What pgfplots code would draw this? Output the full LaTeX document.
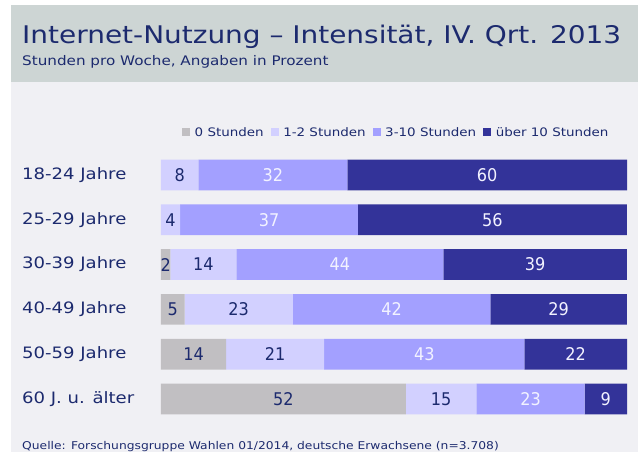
\documentclass[border=0pt]{standalone}
\usepackage{fontspec}
\setmainfont{DejaVu Sans}[FakeStretch=1.15]
\newfontfamily\valfamily{DejaVu Sans}[FakeStretch=0.92]
\usepackage{pgfplots}
\pgfplotsset{compat=1.18}
\usepackage{pgfplotstable}

\definecolor{navy}{HTML}{1C2A6E}
\definecolor{band}{HTML}{CDD5D4}
\definecolor{plotbg}{HTML}{F0F0F4}
\definecolor{c0}{HTML}{C1BFC2}
\definecolor{c1}{HTML}{D2D0FF}
\definecolor{c2}{HTML}{A3A0FF}
\definecolor{c3}{HTML}{333399}
\definecolor{vlight}{HTML}{F2F2FF}

% y: 5 = 18-24 ... 0 = 60+ ; v = bar length (rows scaled to 100), l = printed value
\pgfplotstableread{
y v l
5 0 {}
4 0 {}
3 2.02 2
2 5.05 5
1 14 14
0 52.53 52
}\tzero
\pgfplotstableread{
y v l
5 8 8
4 4.12 4
3 14.14 14
2 23.23 23
1 21 21
0 15.15 15
}\tone
\pgfplotstableread{
y v l
5 32 32
4 38.14 37
3 44.44 44
2 42.42 42
1 43 43
0 23.23 23
}\ttwo
\pgfplotstableread{
y v l
5 60 60
4 57.73 56
3 39.39 39
2 29.29 29
1 22 22
0 9.09 9
}\tthree

\begin{document}
\begin{tikzpicture}
\useasboundingbox (0pt,0pt) rectangle (638pt,452pt);
\clip (0pt,0pt) rectangle (638pt,452pt);
\fill[white] (0pt,0pt) rectangle (638pt,452pt);
\fill[band] (11pt,370.3pt) rectangle (638pt,447pt);
\fill[plotbg] (11pt,0pt) rectangle (638pt,370.3pt);
\node[anchor=base west, inner sep=0pt, text=navy, font=\fontsize{24.3}{28}\selectfont] at (22pt,408pt) {Internet-Nutzung – Intensität, IV. Qrt. 2013};
\node[anchor=base west, inner sep=0pt, text=navy, font=\fontsize{13.2}{15}\selectfont] at (22pt,386.3pt) {Stunden pro Woche, Angaben in Prozent};
\node[anchor=base west, inner sep=0pt, text=navy, font=\fontsize{10.7}{12}\selectfont] at (22pt,2.5pt) {Quelle: Forschungsgruppe Wahlen 01/2014, deutsche Erwachsene (n=3.708)};

\begin{axis}[
  at={(161pt,30.6pt)}, anchor=south west,
  scale only axis, width=466pt, height=268.8pt,
  xbar stacked, bar width=30.7pt,
  xmin=0, xmax=100, ymin=-0.5, ymax=5.5,
  enlargelimits=false,
  axis line style={draw=none}, tick style={draw=none},
  xtick=\empty,
  ytick={0,1,2,3,4,5},
  yticklabels={60 J. u. älter,50-59 Jahre,40-49 Jahre,30-39 Jahre,25-29 Jahre,18-24 Jahre},
  yticklabel style={anchor=west, xshift=-139pt, inner sep=0pt, text=navy, font=\fontsize{15.7}{18}\selectfont},
  legend columns=4,
  legend style={at={(0.04506,1.0729)}, anchor=west, draw=none, fill=none, inner sep=0pt,
    text=navy, font=\fontsize{11.7}{13}\selectfont,
    nodes={inner sep=0pt},
    /tikz/every odd column/.append style={column sep=4.5pt},
    /tikz/every even column/.append style={column sep=7pt}},
  legend image code/.code={\fill[#1, draw=none] (0pt,-3pt) rectangle (8pt,5pt);},
  nodes near coords,
  point meta=explicit symbolic,
  every node near coord/.append style={anchor=center, font=\valfamily\fontsize{17.5}{20}\selectfont},
]
\addplot[fill=c0, draw=none, nodes near coords style={text=navy}] table[x=v, y=y, meta=l] {\tzero};
\addplot[fill=c1, draw=none, nodes near coords style={text=navy}] table[x=v, y=y, meta=l] {\tone};
\addplot[fill=c2, draw=none, nodes near coords style={text=vlight}] table[x=v, y=y, meta=l] {\ttwo};
\addplot[fill=c3, draw=none, nodes near coords style={text=vlight}] table[x=v, y=y, meta=l] {\tthree};
\legend{0 Stunden,1-2 Stunden,3-10 Stunden,über 10 Stunden}
\end{axis}
\end{tikzpicture}
\end{document}
